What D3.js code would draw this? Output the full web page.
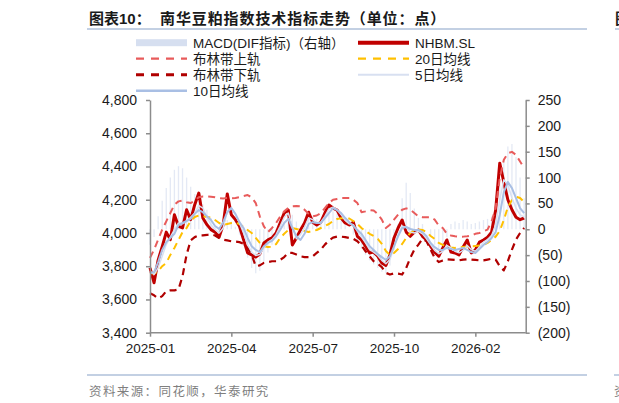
<!DOCTYPE html>
<html lang="zh">
<head>
<meta charset="utf-8">
<title>南华豆粕指数技术指标走势</title>
<style>
  body { margin: 0; background: #fff; }
  svg { display: block; font-family: "Liberation Sans", Arial, "Noto Sans CJK SC", sans-serif; }
  .axis path, .axis line { stroke: #8c8c8c; stroke-width: 1.5; }
  .axis text { fill: #1a1a1a; font-size: 14px; }
  .legend text { fill: #1a1a1a; font-size: 13.5px; }
</style>
</head>
<body>
<div id="chart"></div>
<script src="https://d3js.org/d3.v7.min.js"></script>
<script>
// x axis labels, placed by trading-day index
var tickDays = [0, 60, 120, 180, 240];
var tickLabels = ["2025-01", "2025-04", "2025-07", "2025-10", "2026-02"];
var totalDays = 277;
var step = 3; // trading days between stored points

var leftTicks = [3400, 3600, 3800, 4000, 4200, 4400, 4600, 4800];
var rightTicks = [-200, -150, -100, -50, 0, 50, 100, 150, 200, 250];

// NHBM.SL close
var nhbm = [3790, 3700, 3837, 3918, 4005, 3960, 4110, 4040, 4030, 4140,
  4080, 4170, 4240, 4090, 4050, 4020, 4005, 3975, 4050, 4235,
  4110, 4080, 4040, 3960, 3880, 3868, 3855, 3873, 3940, 3958,
  3970, 4000, 4060, 4120, 4138, 3928, 3970, 4018, 4060, 4125,
  4065, 4048, 4065, 4120, 4168, 4150, 4138, 4090, 4060, 4048,
  4065, 3980, 3958, 3920, 3880, 3885, 3860, 3820, 3805, 3868,
  3970, 4030, 4078, 4005, 3980, 4005, 4018, 3980, 3958, 3920,
  3885, 3860, 3910, 3958, 3885, 3880, 3868, 3915, 3958, 3880,
  3898, 3945, 3958, 3975, 4005, 4138, 4420, 4305, 4200, 4140,
  4095, 4080, 4090];

var ma5 = [3770, 3750, 3790, 3860, 3930, 3975, 4020, 4060, 4055, 4070,
  4095, 4120, 4165, 4150, 4095, 4050, 4020, 4000, 4030, 4130,
  4150, 4110, 4060, 4000, 3930, 3885, 3865, 3870, 3910, 3945,
  3960, 3990, 4040, 4095, 4120, 4040, 3965, 3990, 4035, 4090,
  4080, 4060, 4065, 4100, 4145, 4155, 4140, 4110, 4075, 4055,
  4050, 4010, 3975, 3940, 3900, 3885, 3865, 3835, 3815, 3840,
  3910, 3990, 4040, 4035, 4005, 4000, 4010, 3995, 3965, 3930,
  3895, 3875, 3890, 3925, 3910, 3890, 3880, 3895, 3925, 3900,
  3890, 3915, 3945, 3960, 3985, 4050, 4200, 4320, 4290, 4210,
  4150, 4110, 4095];

var ma10 = [3757, 3765, 3825, 3898, 3945, 3970, 3995, 4048, 4060, 4072,
  4085, 4115, 4138, 4125, 4100, 4078, 4042, 4024, 4065, 4125,
  4150, 4115, 4065, 4030, 3970, 3920, 3898, 3885, 3920, 3940,
  3952, 3980, 4018, 4060, 4085, 4030, 3980, 3958, 3995, 4055,
  4065, 4060, 4060, 4090, 4120, 4150, 4138, 4120, 4090, 4065,
  4042, 4018, 3995, 3958, 3920, 3898, 3873, 3855, 3837, 3860,
  3920, 3980, 4030, 4036, 4024, 4018, 4018, 4005, 3980, 3940,
  3915, 3898, 3898, 3910, 3904, 3898, 3904, 3910, 3898, 3885,
  3880, 3904, 3928, 3945, 3970, 4005, 4108, 4246, 4307, 4270,
  4210, 4150, 4120];

var ma20 = [3760, 3755, 3770, 3800, 3820, 3868, 3910, 3958, 4005, 4030,
  4072, 4096, 4105, 4102, 4096, 4093, 4078, 4060, 4048, 4054,
  4060, 4062, 4054, 4036, 4018, 4000, 3970, 3940, 3920, 3915,
  3917, 3933, 3970, 3995, 4018, 4030, 4024, 4018, 4012, 4006,
  4012, 4018, 4030, 4042, 4054, 4072, 4084, 4088, 4090, 4087,
  4072, 4054, 4030, 4012, 3995, 3982, 3964, 3934, 3892, 3868,
  3880, 3904, 3934, 3970, 4000, 4018, 4021, 4018, 4006, 3982,
  3964, 3940, 3928, 3918, 3913, 3910, 3913, 3916, 3918, 3919,
  3922, 3925, 3928, 3940, 3958, 3978, 4012, 4078, 4156, 4198,
  4218, 4210, 4186];

var bollUp = [3850, 3900, 3960, 4020, 4070, 4120, 4170, 4190, 4195, 4185,
  4180, 4195, 4215, 4220, 4220, 4218, 4215, 4210, 4208, 4210,
  4208, 4210, 4215, 4222, 4228, 4215, 4180, 4100, 4040, 4005,
  4030, 4060, 4098, 4130, 4150, 4160, 4162, 4160, 4140, 4115,
  4100, 4105, 4120, 4150, 4180, 4200, 4205, 4210, 4210, 4210,
  4200, 4180, 4125, 4130, 4138, 4135, 4115, 4080, 4030, 4050,
  4080, 4110, 4140, 4148, 4140, 4120, 4100, 4095, 4095, 4095,
  4080, 4045, 4030, 3995, 3985, 3980, 3978, 3978, 3980, 3985,
  3995, 4000, 4010, 4020, 4070, 4150, 4330, 4440, 4480, 4488,
  4470, 4430, 4390];

var bollDn = [3637, 3625, 3607, 3620, 3650, 3655, 3655, 3660, 3740, 3870,
  3955, 3975, 3985, 3985, 3988, 3992, 3985, 3970, 3960, 3955,
  3950, 3948, 3945, 3935, 3910, 3870, 3800, 3805, 3820, 3825,
  3830, 3830, 3838, 3855, 3880, 3880, 3870, 3860, 3855, 3855,
  3860, 3880, 3900, 3930, 3955, 3972, 3978, 3978, 3975, 3970,
  3965, 3950, 3925, 3890, 3860, 3830, 3815, 3795, 3760, 3750,
  3757, 3755, 3750, 3790, 3850, 3900, 3930, 3965, 3950, 3900,
  3850, 3825, 3835, 3842, 3840, 3838, 3835, 3840, 3842, 3840,
  3838, 3835, 3835, 3840, 3845, 3840, 3800, 3775, 3830, 3900,
  3960, 4000, 4030];

// MACD DIF, right axis
var macdDif = [-30, -15, 25, 55, 80, 100, 115, 122, 118, 100,
  82, 68, 58, 48, 38, 22, 5, -8, 5, 18,
  15, 5, -10, -32, -55, -75, -85, -80, -62, -45,
  -30, -15, 0, 15, 28, 28, 15, 3, 8, 20,
  25, 20, 18, 22, 30, 35, 32, 20, 8, 0,
  -10, -25, -38, -50, -60, -68, -75, -82, -85, -70,
  -40, 10, 60, 90, 70, 40, 22, 10, 0, -15,
  -30, -38, -30, -15, 10, 15, 12, 18, 15, 10,
  12, 15, 18, 20, 25, 45, 90, 135, 160, 165,
  140, 100, 60];

var width = 619,
    height = 403;

var svg = d3.select("#chart")
    .append("svg")
    .attr("width", width)
    .attr("height", height);

svg.append("rect").attr("width", width).attr("height", height).attr("fill", "#fff");

var x = d3.scaleLinear().domain([0, totalDays]).range([150, 525.5]);
var yL = d3.scaleLinear().domain([3400, 4800]).range([332.7, 100]);
var yR = d3.scaleLinear().domain([-200, 250]).range([332.7, 100]);

// title
svg.append("text")
    .attr("x", 89).attr("y", 23.5)
    .attr("font-size", 15).attr("font-weight", "bold").attr("fill", "#1a1a1a")
    .text("图表10：");
svg.append("text")
    .attr("x", 160).attr("y", 23.5)
    .attr("font-size", 15).attr("font-weight", "bold").attr("fill", "#1a1a1a")
    .attr("letter-spacing", 0.9)
    .text("南华豆粕指数技术指标走势（单位：点）");
svg.append("line")
    .attr("x1", 87).attr("x2", 587).attr("y1", 29).attr("y2", 29)
    .attr("stroke", "#c3d0e3").attr("stroke-width", 2);

// bits of the neighbouring chart at the right edge
svg.append("text")
    .attr("x", 615).attr("y", 23.5)
    .attr("font-size", 15).attr("font-weight", "bold").attr("fill", "#1a1a1a")
    .text("图");
svg.append("line")
    .attr("x1", 615).attr("x2", 619).attr("y1", 29).attr("y2", 29)
    .attr("stroke", "#c3d0e3").attr("stroke-width", 2);

// MACD bars
svg.append("g")
  .selectAll("line")
    .data(macdDif)
  .enter().append("line")
    .attr("x1", function(d, i) { return x(i * step); })
    .attr("x2", function(d, i) { return x(i * step); })
    .attr("y1", yR(0))
    .attr("y2", function(d) { return yR(d); })
    .attr("stroke", "#d3dcef")
    .attr("stroke-width", 1.3)
    .attr("opacity", 0.6);

var line = d3.line()
    .x(function(d, i) { return x(i * step); })
    .y(function(d) { return yL(d); });

var series = [
  {data: nhbm,   color: "#c00000", width: 3,   dash: null},
  {data: bollUp, color: "#e85b5b", width: 2,   dash: "7,5"},
  {data: ma20,   color: "#ffc000", width: 2,   dash: "7,5"},
  {data: bollDn, color: "#b00000", width: 2.2, dash: "7,5"},
  {data: ma5,    color: "#d8e0f1", width: 1.5, dash: null},
  {data: ma10,   color: "#a9bfe4", width: 2,   dash: null}
];

svg.append("g")
  .selectAll("path")
    .data(series)
  .enter().append("path")
    .attr("d", function(d) { return line(d.data); })
    .attr("fill", "none")
    .attr("stroke", function(d) { return d.color; })
    .attr("stroke-width", function(d) { return d.width; })
    .attr("stroke-dasharray", function(d) { return d.dash; })
    .attr("stroke-linejoin", "round");

// axes
svg.append("g")
    .attr("class", "axis")
    .attr("transform", "translate(150,0)")
    .call(d3.axisLeft(yL).tickValues(leftTicks).tickSize(4).tickSizeOuter(0)
      .tickPadding(9).tickFormat(d3.format(",")));

svg.append("g")
    .attr("class", "axis")
    .attr("transform", "translate(525.7,0)")
    .call(d3.axisRight(yR).tickValues(rightTicks).tickSize(4).tickSizeOuter(0)
      .tickPadding(8).tickFormat(function(d) { return d < 0 ? "(" + (-d) + ")" : d; }));

var xAxis = svg.append("g")
    .attr("class", "axis")
    .attr("transform", "translate(0,332.7)")
    .call(d3.axisBottom(x).tickValues(tickDays).tickSize(4).tickSizeOuter(0)
      .tickPadding(7).tickFormat(function(d, i) { return tickLabels[i]; }));
xAxis.select(".domain").attr("d", "M150,0H525.7");
xAxis.selectAll("text").style("font-size", "13.5px");

// legend
var legendItems = [
  {name: "MACD(DIF指标)（右轴）", kind: "bar",  color: "#d6dff0"},
  {name: "NHBM.SL",              kind: "line", color: "#c00000", width: 4},
  {name: "布林带上轨",            kind: "dash", color: "#e85b5b", width: 2.3},
  {name: "20日均线",              kind: "dash", color: "#ffc000", width: 2.3},
  {name: "布林带下轨",            kind: "dash", color: "#b00000", width: 3},
  {name: "5日均线",               kind: "line", color: "#d8e0f1", width: 2},
  {name: "10日均线",              kind: "line", color: "#a9bfe4", width: 2.5}
];
var colX = [136, 358];

var legend = svg.append("g")
    .attr("class", "legend")
  .selectAll("g")
    .data(legendItems)
  .enter().append("g")
    .attr("transform", function(d, i) {
      return "translate(" + colX[i % 2] + "," + (42.7 + Math.floor(i / 2) * 16) + ")";
    });

legend.filter(function(d) { return d.kind === "bar"; })
  .append("rect")
    .attr("x", 0).attr("y", -3.5).attr("width", 51).attr("height", 7)
    .attr("fill", function(d) { return d.color; });

legend.filter(function(d) { return d.kind !== "bar"; })
  .append("line")
    .attr("x1", 0).attr("x2", 51)
    .attr("stroke", function(d) { return d.color; })
    .attr("stroke-width", function(d) { return d.width; })
    .attr("stroke-dasharray", function(d) { return d.kind === "dash" ? "8,7" : null; });

legend.append("text")
    .attr("x", 57).attr("y", 5)
    .text(function(d) { return d.name; });

// source
svg.append("line")
    .attr("x1", 87).attr("x2", 587).attr("y1", 375).attr("y2", 375)
    .attr("stroke", "#c3d0e3").attr("stroke-width", 2);
svg.append("line")
    .attr("x1", 614).attr("x2", 619).attr("y1", 375).attr("y2", 375)
    .attr("stroke", "#c3d0e3").attr("stroke-width", 2);
svg.append("text")
    .attr("x", 89).attr("y", 395.5)
    .attr("font-size", 12.5).attr("fill", "#7f7f7f").attr("letter-spacing", 1.4)
    .text("资料来源：同花顺，华泰研究");
svg.append("text")
    .attr("x", 614).attr("y", 395.5)
    .attr("font-size", 12.5).attr("fill", "#7f7f7f")
    .text("资");
</script>
</body>
</html>
